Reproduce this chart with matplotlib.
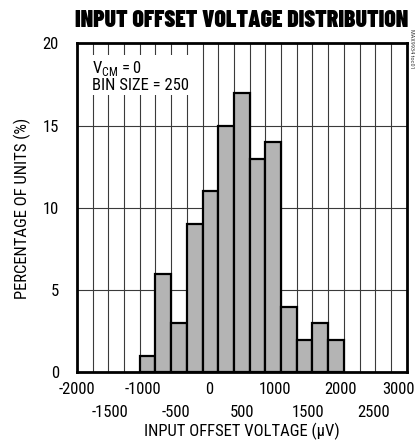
import numpy as np
import matplotlib
matplotlib.use('Agg')
import matplotlib.pyplot as plt
import matplotlib.transforms as mtransforms

plt.rcParams['font.family'] = ['Roboto Condensed', 'Liberation Sans', 'DejaVu Sans']

# ---------------------------------------------------------------------------
# Data
# ---------------------------------------------------------------------------
counts = [1, 6, 3, 9, 11, 15, 17, 13, 14, 4, 2, 3, 2]   # % of units per bin
first_bin = 4          # grid cell where the first bar starts
n_cells = 21           # vertical grid divisions across the x range
x_min, x_max = -2000, 3000
y_ticks = [0, 5, 10, 15, 20]
x_ticks_top = [-2000, -1000, 0, 1000, 2000, 3000]
x_ticks_bot = [-1500, -500, 500, 1500, 2500]

# ---------------------------------------------------------------------------
fig = plt.figure(figsize=(4.15, 4.41), dpi=100)
ax = fig.add_axes([0.1855, 0.1555, 0.7945, 0.746])

step = (x_max - x_min) / n_cells
grid_x = x_min + step * np.arange(1, n_cells)
ax.vlines(grid_x, 0, 20, color='#3a3a3a', lw=0.8, zorder=1)
ax.hlines([5, 10, 15], x_min, x_max, color='#3a3a3a', lw=0.8, zorder=1)

lefts = x_min + step * (first_bin + np.arange(len(counts)))
ax.bar(lefts, counts, width=step, align='edge', color='#b4b4b4',
       edgecolor='black', lw=1.6, zorder=2)

ax.set_xlim(x_min, x_max)
ax.set_ylim(0, 20)
for s in ax.spines.values():
    s.set_linewidth(2.0)
    s.set_zorder(5)

ax.set_yticks(y_ticks)
ax.tick_params(axis='y', length=0, pad=13, labelsize=12)
ax.set_xticks([])

# staggered x tick labels, like the datasheet
shift_left = mtransforms.offset_copy(ax.transData, fig=fig, x=-8, units='dots')
for v in x_ticks_top:
    tr = shift_left if v == x_max else ax.transData
    ax.text(v, -0.6, str(v), ha='center', va='top', fontsize=12,
            transform=tr, clip_on=False)
for v in x_ticks_bot:
    ax.text(v, -1.95, str(v), ha='center', va='top', fontsize=12,
            clip_on=False)

ax.text(0.5, -0.152, 'INPUT OFFSET VOLTAGE (\u03bcV)', ha='center', va='top',
        fontsize=12, transform=ax.transAxes)
ax.set_ylabel('PERCENTAGE OF UNITS (%)', fontsize=12, labelpad=8)

ax.text(0.045, 0.953, 'V$_{\\mathregular{CM}}$ = 0\nBIN SIZE = 250',
        ha='left', va='top', fontsize=12, linespacing=1.0,
        transform=ax.transAxes, zorder=4,
        bbox=dict(facecolor='white', edgecolor='none', pad=1.5))

fig.text(0.5825, 0.978, 'INPUT OFFSET VOLTAGE DISTRIBUTION', ha='center',
         va='top', fontsize=17, fontweight='black',
         family=['Barlow Condensed', 'Roboto Condensed', 'DejaVu Sans'])
fig.text(0.992, 0.935, 'MAX9934 toc01', rotation=270, ha='center', va='top',
         fontsize=4.5, color='#444444')

fig.savefig('out.png', dpi=100)
